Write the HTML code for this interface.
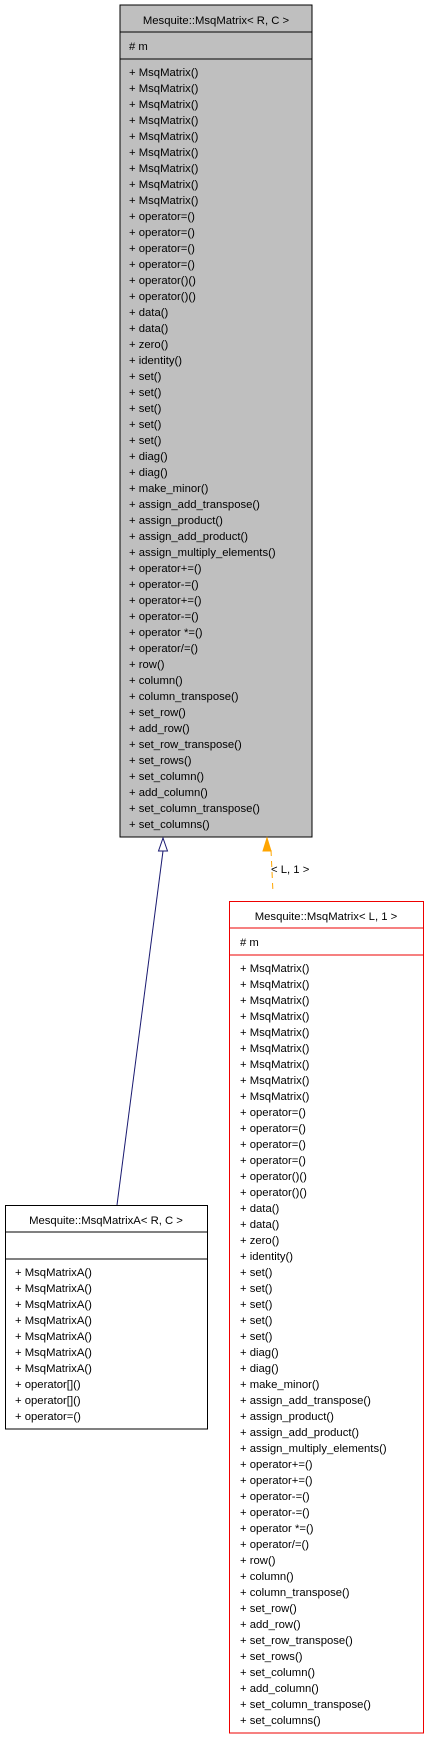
<!DOCTYPE html>
<html><head><meta charset="utf-8"><style>
html,body{margin:0;padding:0;background:#fff;}
svg{display:block;}
text{font-family:"Liberation Sans",Arial,sans-serif;font-size:11.3px;fill:#000;}
</style></head><body>
<svg width="427" height="1739" viewBox="0 0 427 1739" xmlns="http://www.w3.org/2000/svg">
<rect x="120" y="5" width="192" height="832" fill="#bfbfbf" stroke="#000" stroke-width="1"/>
<line x1="120" y1="32" x2="312" y2="32" stroke="#000"/>
<line x1="120" y1="59" x2="312" y2="59" stroke="#000"/>
<text x="216" y="24" text-anchor="middle">Mesquite::MsqMatrix&lt; R, C &gt;</text>
<text x="129" y="50"># m</text>
<g>
<text x="129" y="76">+ MsqMatrix()</text>
<text x="129" y="92">+ MsqMatrix()</text>
<text x="129" y="108">+ MsqMatrix()</text>
<text x="129" y="124">+ MsqMatrix()</text>
<text x="129" y="140">+ MsqMatrix()</text>
<text x="129" y="156">+ MsqMatrix()</text>
<text x="129" y="172">+ MsqMatrix()</text>
<text x="129" y="188">+ MsqMatrix()</text>
<text x="129" y="204">+ MsqMatrix()</text>
<text x="129" y="220">+ operator=()</text>
<text x="129" y="236">+ operator=()</text>
<text x="129" y="252">+ operator=()</text>
<text x="129" y="268">+ operator=()</text>
<text x="129" y="284">+ operator()()</text>
<text x="129" y="300">+ operator()()</text>
<text x="129" y="316">+ data()</text>
<text x="129" y="332">+ data()</text>
<text x="129" y="348">+ zero()</text>
<text x="129" y="364">+ identity()</text>
<text x="129" y="380">+ set()</text>
<text x="129" y="396">+ set()</text>
<text x="129" y="412">+ set()</text>
<text x="129" y="428">+ set()</text>
<text x="129" y="444">+ set()</text>
<text x="129" y="460">+ diag()</text>
<text x="129" y="476">+ diag()</text>
<text x="129" y="492">+ make_minor()</text>
<text x="129" y="508">+ assign_add_transpose()</text>
<text x="129" y="524">+ assign_product()</text>
<text x="129" y="540">+ assign_add_product()</text>
<text x="129" y="556">+ assign_multiply_elements()</text>
<text x="129" y="572">+ operator+=()</text>
<text x="129" y="588">+ operator-=()</text>
<text x="129" y="604">+ operator+=()</text>
<text x="129" y="620">+ operator-=()</text>
<text x="129" y="636">+ operator *=()</text>
<text x="129" y="652">+ operator/=()</text>
<text x="129" y="668">+ row()</text>
<text x="129" y="684">+ column()</text>
<text x="129" y="700">+ column_transpose()</text>
<text x="129" y="716">+ set_row()</text>
<text x="129" y="732">+ add_row()</text>
<text x="129" y="748">+ set_row_transpose()</text>
<text x="129" y="764">+ set_rows()</text>
<text x="129" y="780">+ set_column()</text>
<text x="129" y="796">+ add_column()</text>
<text x="129" y="812">+ set_column_transpose()</text>
<text x="129" y="828">+ set_columns()</text>
</g>

<line x1="163" y1="851" x2="117" y2="1205" stroke="#191970" stroke-width="1"/>
<polygon points="163,838 158.5,851 167.5,851" fill="#fff" stroke="#191970" stroke-width="1"/>

<line x1="271" y1="850" x2="273" y2="893" stroke="#ffa500" stroke-width="1" stroke-dasharray="6,5"/>
<polygon points="267,838 263,851 271,851" fill="#ffa500" stroke="#ffa500"/>
<text x="271" y="873">&lt; L, 1 &gt;</text>

<rect x="229.5" y="901.5" width="194" height="831.5" fill="#fff" stroke="#e00" stroke-width="1"/>
<line x1="229.5" y1="928" x2="423.5" y2="928" stroke="#e00"/>
<line x1="229.5" y1="955" x2="423.5" y2="955" stroke="#e00"/>
<text x="326" y="920" text-anchor="middle">Mesquite::MsqMatrix&lt; L, 1 &gt;</text>
<text x="240" y="946"># m</text>
<g transform="translate(111,896)">
<text x="129" y="76">+ MsqMatrix()</text>
<text x="129" y="92">+ MsqMatrix()</text>
<text x="129" y="108">+ MsqMatrix()</text>
<text x="129" y="124">+ MsqMatrix()</text>
<text x="129" y="140">+ MsqMatrix()</text>
<text x="129" y="156">+ MsqMatrix()</text>
<text x="129" y="172">+ MsqMatrix()</text>
<text x="129" y="188">+ MsqMatrix()</text>
<text x="129" y="204">+ MsqMatrix()</text>
<text x="129" y="220">+ operator=()</text>
<text x="129" y="236">+ operator=()</text>
<text x="129" y="252">+ operator=()</text>
<text x="129" y="268">+ operator=()</text>
<text x="129" y="284">+ operator()()</text>
<text x="129" y="300">+ operator()()</text>
<text x="129" y="316">+ data()</text>
<text x="129" y="332">+ data()</text>
<text x="129" y="348">+ zero()</text>
<text x="129" y="364">+ identity()</text>
<text x="129" y="380">+ set()</text>
<text x="129" y="396">+ set()</text>
<text x="129" y="412">+ set()</text>
<text x="129" y="428">+ set()</text>
<text x="129" y="444">+ set()</text>
<text x="129" y="460">+ diag()</text>
<text x="129" y="476">+ diag()</text>
<text x="129" y="492">+ make_minor()</text>
<text x="129" y="508">+ assign_add_transpose()</text>
<text x="129" y="524">+ assign_product()</text>
<text x="129" y="540">+ assign_add_product()</text>
<text x="129" y="556">+ assign_multiply_elements()</text>
<text x="129" y="572">+ operator+=()</text>
<text x="129" y="588">+ operator+=()</text>
<text x="129" y="604">+ operator-=()</text>
<text x="129" y="620">+ operator-=()</text>
<text x="129" y="636">+ operator *=()</text>
<text x="129" y="652">+ operator/=()</text>
<text x="129" y="668">+ row()</text>
<text x="129" y="684">+ column()</text>
<text x="129" y="700">+ column_transpose()</text>
<text x="129" y="716">+ set_row()</text>
<text x="129" y="732">+ add_row()</text>
<text x="129" y="748">+ set_row_transpose()</text>
<text x="129" y="764">+ set_rows()</text>
<text x="129" y="780">+ set_column()</text>
<text x="129" y="796">+ add_column()</text>
<text x="129" y="812">+ set_column_transpose()</text>
<text x="129" y="828">+ set_columns()</text>
</g>

<rect x="5.5" y="1205.5" width="202" height="223.5" fill="#fff" stroke="#000" stroke-width="1"/>
<line x1="5.5" y1="1232" x2="207.5" y2="1232" stroke="#000"/>
<line x1="5.5" y1="1259" x2="207.5" y2="1259" stroke="#000"/>
<text x="106" y="1224" text-anchor="middle">Mesquite::MsqMatrixA&lt; R, C &gt;</text>
<text x="15" y="1276">+ MsqMatrixA()</text>
<text x="15" y="1292">+ MsqMatrixA()</text>
<text x="15" y="1308">+ MsqMatrixA()</text>
<text x="15" y="1324">+ MsqMatrixA()</text>
<text x="15" y="1340">+ MsqMatrixA()</text>
<text x="15" y="1356">+ MsqMatrixA()</text>
<text x="15" y="1372">+ MsqMatrixA()</text>
<text x="15" y="1388">+ operator[]()</text>
<text x="15" y="1404">+ operator[]()</text>
<text x="15" y="1420">+ operator=()</text>
</svg>
</body></html>
